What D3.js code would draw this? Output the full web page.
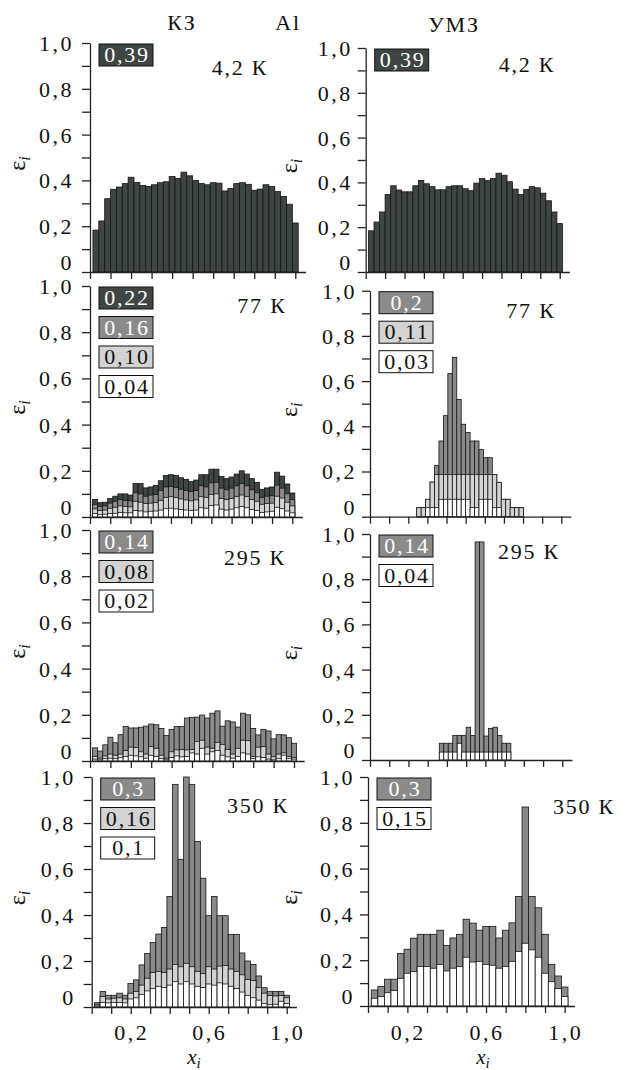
<!DOCTYPE html>
<html>
<head>
<meta charset="utf-8">
<script src="https://cdn.jsdelivr.net/npm/d3@7"></script>
<style>
  body { margin: 0; background: #fff; }
  svg { display: block; }
  text { font-family: "Liberation Serif", "Times New Roman", serif; fill: #111; }
  text.num { letter-spacing: 2.5px; }
  text.lab { letter-spacing: 1.8px; }
</style>
</head>
<body>
<svg id="fig" width="628" height="1070"></svg>
<script>
// ---- local strain ε_i along the sample, x_i ----

// КЗ (coarse-grained), 4.2 K, ε = 0.39
const kz42 = [0.183, 0.223, 0.320, 0.361, 0.371, 0.386, 0.414, 0.391, 0.378, 0.374,
              0.381, 0.390, 0.394, 0.417, 0.409, 0.436, 0.420, 0.400, 0.386, 0.381,
              0.390, 0.388, 0.354, 0.365, 0.386, 0.390, 0.383, 0.357, 0.362, 0.381,
              0.374, 0.351, 0.330, 0.296, 0.214];
// УМЗ (ultrafine-grained), 4.2 K, ε = 0.39
const umz42 = [0.184, 0.223, 0.268, 0.346, 0.385, 0.366, 0.358, 0.358, 0.385, 0.409,
               0.394, 0.381, 0.367, 0.367, 0.381, 0.385, 0.385, 0.372, 0.363, 0.397,
               0.417, 0.408, 0.417, 0.441, 0.432, 0.403, 0.370, 0.346, 0.369, 0.381,
               0.376, 0.352, 0.318, 0.268, 0.216];

// КЗ, 77 K: ε = 0.22, 0.16, 0.10, 0.04
const kz77a = [0.076, 0.062, 0.064, 0.080, 0.090, 0.100, 0.100, 0.095, 0.145, 0.145,
               0.126, 0.130, 0.137, 0.157, 0.180, 0.183, 0.180, 0.170, 0.163, 0.153,
               0.160, 0.183, 0.183, 0.207, 0.207, 0.175, 0.166, 0.173, 0.186, 0.200,
               0.186, 0.166, 0.150, 0.120, 0.126, 0.130, 0.194, 0.177, 0.143, 0.104];
const kz77b = [0.055, 0.045, 0.048, 0.060, 0.068, 0.075, 0.072, 0.070, 0.105, 0.100,
               0.090, 0.095, 0.098, 0.115, 0.130, 0.132, 0.128, 0.120, 0.115, 0.110,
               0.115, 0.135, 0.130, 0.148, 0.150, 0.125, 0.118, 0.125, 0.135, 0.145,
               0.135, 0.118, 0.105, 0.085, 0.090, 0.092, 0.138, 0.125, 0.100, 0.075];
const kz77c = [0.035, 0.028, 0.030, 0.038, 0.042, 0.048, 0.045, 0.044, 0.068, 0.064,
               0.058, 0.060, 0.062, 0.072, 0.085, 0.088, 0.084, 0.078, 0.074, 0.070,
               0.074, 0.088, 0.085, 0.098, 0.100, 0.080, 0.076, 0.080, 0.088, 0.095,
               0.088, 0.076, 0.068, 0.055, 0.058, 0.060, 0.090, 0.082, 0.064, 0.048];
const kz77d = [0.015, 0.010, 0.012, 0.015, 0.016, 0.020, 0.018, 0.018, 0.028, 0.026,
               0.022, 0.025, 0.026, 0.030, 0.036, 0.038, 0.035, 0.032, 0.030, 0.028,
               0.030, 0.040, 0.038, 0.050, 0.052, 0.034, 0.030, 0.034, 0.040, 0.045,
               0.040, 0.032, 0.028, 0.020, 0.022, 0.025, 0.042, 0.036, 0.026, 0.018];

// УМЗ, 77 K: ε = 0.2, 0.11, 0.03
const umz77a = [0.040, 0.040, 0.077, 0.153, 0.226, 0.335, 0.447, 0.633, 0.705, 0.519,
                0.409, 0.373, 0.335, 0.335, 0.298, 0.261, 0.261, 0.187, 0.152, 0.077,
                0.077, 0.040, 0.040, 0.040];
const umz77b = [0.040, 0.040, 0.077, 0.153, 0.187, 0.187, 0.187, 0.187, 0.187, 0.187,
                0.187, 0.187, 0.187, 0.187, 0.187, 0.187, 0.187, 0.187, 0.152, 0.077,
                0.077, 0.040, 0.040, 0.040];
const umz77c = [0, 0, 0.040, 0.040, 0.040, 0.077, 0.077, 0.077, 0.077, 0.077,
                0.077, 0.077, 0.040, 0.040, 0.077, 0.077, 0.077, 0.040, 0.040, 0,
                0, 0, 0, 0];

// КЗ, 295 K: ε = 0.14, 0.08, 0.02
const kz295a = [0.057, 0.043, 0.070, 0.103, 0.079, 0.114, 0.149, 0.143, 0.143, 0.146,
                0.151, 0.160, 0.157, 0.141, 0.110, 0.137, 0.149, 0.150, 0.186, 0.189,
                0.190, 0.199, 0.186, 0.207, 0.217, 0.151, 0.174, 0.169, 0.147, 0.207,
                0.200, 0.141, 0.113, 0.137, 0.130, 0.096, 0.114, 0.113, 0.101, 0.077];
const kz295b = [0.020, 0.012, 0.022, 0.030, 0.025, 0.030, 0.045, 0.060, 0.058, 0.040,
                0.030, 0.062, 0.055, 0.025, 0.012, 0.040, 0.048, 0.050, 0.048, 0.050,
                0.085, 0.090, 0.060, 0.055, 0.080, 0.072, 0.050, 0.030, 0.055, 0.090,
                0.088, 0.020, 0.060, 0.062, 0.030, 0.018, 0.030, 0.035, 0.020, 0.015];
const kz295c = [0.008, 0.005, 0.010, 0.012, 0.010, 0.014, 0.020, 0.025, 0.022, 0.018,
                0.012, 0.025, 0.020, 0.010, 0.005, 0.015, 0.022, 0.018, 0.020, 0.035,
                0.030, 0.055, 0.030, 0.040, 0.045, 0.025, 0.018, 0.012, 0.020, 0.035,
                0.030, 0.010, 0.018, 0.015, 0.008, 0.005, 0.010, 0.025, 0.010, 0.008];

// УМЗ, 295 K: ε = 0.14, 0.04
const umz295a = [0.074, 0.074, 0.074, 0.109, 0.109, 0.109, 0.145, 0.109, 0.965, 0.965,
                 0.106, 0.140, 0.145, 0.109, 0.074, 0.074];
const umz295b = [0.035, 0.035, 0.035, 0.035, 0.074, 0.035, 0.035, 0.035, 0.035, 0.035,
                 0.035, 0.035, 0.035, 0.035, 0.035, 0.035];

// КЗ, 350 K: ε = 0.3, 0.16, 0.1
const kz350a = [0.019, 0.068, 0.051, 0.051, 0.060, 0.051, 0.102, 0.118, 0.183, 0.233,
                0.280, 0.317, 0.346, 0.480, 0.968, 0.642, 1.000, 0.968, 0.720, 0.560,
                0.397, 0.480, 0.397, 0.397, 0.315, 0.315, 0.235, 0.200, 0.185, 0.135,
                0.084, 0.068, 0.068, 0.068, 0.051];
const kz350b = [0.012, 0.045, 0.035, 0.038, 0.040, 0.035, 0.060, 0.068, 0.095, 0.125,
                0.150, 0.155, 0.150, 0.165, 0.185, 0.175, 0.190, 0.175, 0.155, 0.145,
                0.175, 0.165, 0.178, 0.180, 0.165, 0.155, 0.140, 0.120, 0.115, 0.085,
                0.060, 0.050, 0.048, 0.050, 0.040];
const kz350c = [0.005, 0.020, 0.018, 0.020, 0.020, 0.018, 0.035, 0.040, 0.055, 0.070,
                0.080, 0.090, 0.085, 0.095, 0.110, 0.100, 0.110, 0.100, 0.090, 0.085,
                0.100, 0.095, 0.105, 0.100, 0.090, 0.080, 0.065, 0.050, 0.040, 0.030,
                0.015, 0.010, 0.012, 0.025, 0.015];

// УМЗ, 350 K: ε = 0.3, 0.15
const umz350a = [0.070, 0.085, 0.117, 0.117, 0.230, 0.248, 0.296, 0.313, 0.313, 0.313,
                 0.331, 0.264, 0.297, 0.313, 0.379, 0.362, 0.331, 0.347, 0.347, 0.297,
                 0.331, 0.363, 0.478, 0.869, 0.478, 0.429, 0.313, 0.182, 0.131, 0.083];
const umz350b = [0.034, 0.041, 0.058, 0.067, 0.121, 0.143, 0.150, 0.172, 0.172, 0.165,
                 0.182, 0.153, 0.165, 0.172, 0.213, 0.192, 0.195, 0.182, 0.178, 0.165,
                 0.172, 0.195, 0.238, 0.274, 0.245, 0.213, 0.143, 0.106, 0.076, 0.041];

// legend values (total strain of each series)
const leg42 = ["0,39"];
const legKz77 = ["0,22", "0,16", "0,10", "0,04"];
const legUmz77 = ["0,2", "0,11", "0,03"];
const legKz295 = ["0,14", "0,08", "0,02"];
const legUmz295 = ["0,14", "0,04"];
const legKz350 = ["0,3", "0,16", "0,1"];
const legUmz350 = ["0,3", "0,15"];

const yTickVals = [0, 0.2, 0.4, 0.6, 0.8, 1.0];
const xTickLabelVals = [0.2, 0.6, 1.0];

// ---- styling ----
const tone = { dark: "#3e4643", mid: "#8a8a8a", light: "#d3d3d3", white: "#ffffff" };
const toneText = { dark: "#ffffff", mid: "#ffffff", light: "#111111", white: "#111111" };

// panel frames in pixels: x of x_i=0, x of x_i=1, y of ε=1, y of ε=0
const panels = [
  { frame: { x0: 90,    x1: 295.3, yTop: 43,    yBot: 272   }, col: 0, bins: 35, k0: 1,
    layers: [["dark", kz42]], legend: [["dark", leg42[0]]], temp: "4,2 К", tempAt: [240, 75] },
  { frame: { x0: 365.7, x1: 559.7, yTop: 48,    yBot: 272   }, col: 1, bins: 35, k0: 1,
    layers: [["dark", umz42]], legend: [["dark", leg42[0]]], temp: "4,2 К", tempAt: [527, 72] },
  { frame: { x0: 90,    x1: 292.3, yTop: 286,   yBot: 517   }, col: 0, bins: 40, k0: 1,
    layers: [["dark", kz77a], ["mid", kz77b], ["light", kz77c], ["white", kz77d]],
    legend: [["dark", legKz77[0]], ["mid", legKz77[1]], ["light", legKz77[2]], ["white", legKz77[3]]],
    temp: "77 К", tempAt: [262, 313] },
  { frame: { x0: 370,   x1: 561.3, yTop: 290.7, yBot: 516.7 }, col: 1, bins: 43, k0: 11,
    layers: [["mid", umz77a], ["light", umz77b], ["white", umz77c]],
    legend: [["mid", legUmz77[0]], ["light", legUmz77[1]], ["white", legUmz77[2]]],
    temp: "77 К", tempAt: [531, 318] },
  { frame: { x0: 90,    x1: 294,   yTop: 530,   yBot: 761   }, col: 0, bins: 40, k0: 1,
    layers: [["mid", kz295a], ["light", kz295b], ["white", kz295c]],
    legend: [["mid", legKz295[0]], ["light", legKz295[1]], ["white", legKz295[2]]],
    temp: "295 К", tempAt: [255, 565] },
  { frame: { x0: 370,   x1: 562.3, yTop: 534,   yBot: 760   }, col: 1, bins: 43, k0: 16,
    layers: [["mid", umz295a], ["white", umz295b]],
    legend: [["mid", legUmz295[0]], ["white", legUmz295[1]]],
    temp: "295 К", tempAt: [529, 559] },
  { frame: { x0: 91.7,  x1: 286.7, yTop: 777,   yBot: 1007  }, col: 0, bins: 35, k0: 1,
    layers: [["mid", kz350a], ["light", kz350b], ["white", kz350c]],
    legend: [["mid", legKz350[0]], ["light", legKz350[1]], ["white", legKz350[2]]],
    temp: "350 К", tempAt: [258, 813], bottom: true },
  { frame: { x0: 368,   x1: 564.7, yTop: 777,   yBot: 1006  }, col: 1, bins: 30, k0: 1,
    layers: [["mid", umz350a], ["white", umz350b]],
    legend: [["mid", legUmz350[0]], ["white", legUmz350[1]]],
    temp: "350 К", tempAt: [584, 814], bottom: true }
];

const svg = d3.select("#fig");
const fmt = v => v === 0 ? "0" : d3.format(".1f")(v).replace(".", ",");

panels.forEach(p => {
  const f = p.frame;
  const x = d3.scaleLinear().domain([0, 1.05]).range([f.x0, f.x0 + 1.05 * (f.x1 - f.x0)]);
  const y = d3.scaleLinear().domain([0, 1]).range([f.yBot, f.yTop]);
  const g = svg.append("g");
  const w = 1 / p.bins;

  // overlaid histograms, tallest series first
  p.layers.forEach(([t, vals]) => {
    const rows = vals.map((v, i) => ({ v, k: p.k0 + i })).filter(d => d.v > 0);
    g.append("g").selectAll("rect").data(rows).join("rect")
      .attr("x", d => x((d.k - 0.5) * w))
      .attr("width", d => x((d.k + 0.5) * w) - x((d.k - 0.5) * w))
      .attr("y", d => y(d.v))
      .attr("height", d => y(0) - y(d.v))
      .attr("fill", tone[t])
      .attr("stroke", "#161616")
      .attr("stroke-width", 0.8);
  });

  // axes
  const xAxis = d3.axisBottom(x).tickValues(d3.range(0, 1.001, 0.1))
    .tickSize(7).tickSizeOuter(0).tickFormat("");
  const yAxis = d3.axisLeft(y).tickValues(d3.range(0, 1.001, 0.1))
    .tickSize(8).tickSizeOuter(0).tickFormat("");
  const ax = g.append("g").attr("transform", `translate(0,${f.yBot})`).call(xAxis);
  const ay = g.append("g").attr("transform", `translate(${f.x0},0)`).call(yAxis);
  [ax, ay].forEach(a => a.selectAll("path,line").attr("stroke", "#222").attr("stroke-width", 1.3));

  // y tick labels; the zero sits on the axis line
  const gap = p.col === 0 ? 16 : 13;
  g.selectAll("text.yt").data(yTickVals).join("text")
    .attr("class", "yt num")
    .attr("x", f.x0 - gap)
    .attr("y", d => d === 0 ? y(d) - 2 : y(d))
    .attr("dy", d => d === 0 ? "0" : "0.36em")
    .attr("text-anchor", "end")
    .attr("font-size", 22)
    .text(fmt);

  // axis title ε_i
  const ly = (f.yTop + f.yBot) / 2 + 6;
  const lx = p.col === 0 ? 25 : 297;
  const et = g.append("text")
    .attr("transform", `translate(${lx},${ly}) rotate(-90)`)
    .attr("text-anchor", "middle")
    .attr("font-size", 24);
  et.append("tspan").text("ε");
  et.append("tspan").attr("font-style", "italic").attr("font-size", 16).attr("dy", 5).text("i");

  // legend boxes
  p.legend.forEach(([t, label], i) => {
    const bx = f.x0 + 9, by = f.yTop + 1 + i * 29.5;
    g.append("rect").attr("x", bx).attr("y", by).attr("width", 54).attr("height", 22)
      .attr("fill", tone[t]).attr("stroke", "#111").attr("stroke-width", 1);
    g.append("text").attr("class", "lab").attr("x", bx + 28).attr("y", by + 18)
      .attr("text-anchor", "middle")
      .attr("font-size", 22).style("fill", toneText[t]).text(label);
  });

  // temperature
  g.append("text").attr("class", "lab").attr("x", p.tempAt[0]).attr("y", p.tempAt[1])
    .attr("text-anchor", "middle").attr("font-size", 22).text(p.temp);

  // x tick labels and title on the bottom row
  if (p.bottom) {
    g.selectAll("text.xt").data(xTickLabelVals).join("text")
      .attr("class", "xt num")
      .attr("x", d => x(d) + 1)
      .attr("y", 1040)
      .attr("text-anchor", "middle")
      .attr("font-size", 22)
      .text(fmt);
    const xt = g.append("text")
      .attr("x", p.col === 0 ? 194 : 483)
      .attr("y", 1064)
      .attr("text-anchor", "middle")
      .attr("font-size", 21)
      .attr("font-style", "italic");
    xt.append("tspan").text("x");
    xt.append("tspan").attr("font-size", 15).attr("dy", 4).text("i");
  }
});

// column headings
svg.append("text").attr("class", "lab").attr("x", 182).attr("y", 30).attr("text-anchor", "middle").attr("font-size", 22).text("КЗ");
svg.append("text").attr("class", "lab").attr("x", 288).attr("y", 30).attr("text-anchor", "middle").attr("font-size", 22).text("Al");
svg.append("text").attr("class", "lab").attr("x", 454).attr("y", 32).attr("text-anchor", "middle").attr("font-size", 22).text("УМЗ");
</script>
</body>
</html>
